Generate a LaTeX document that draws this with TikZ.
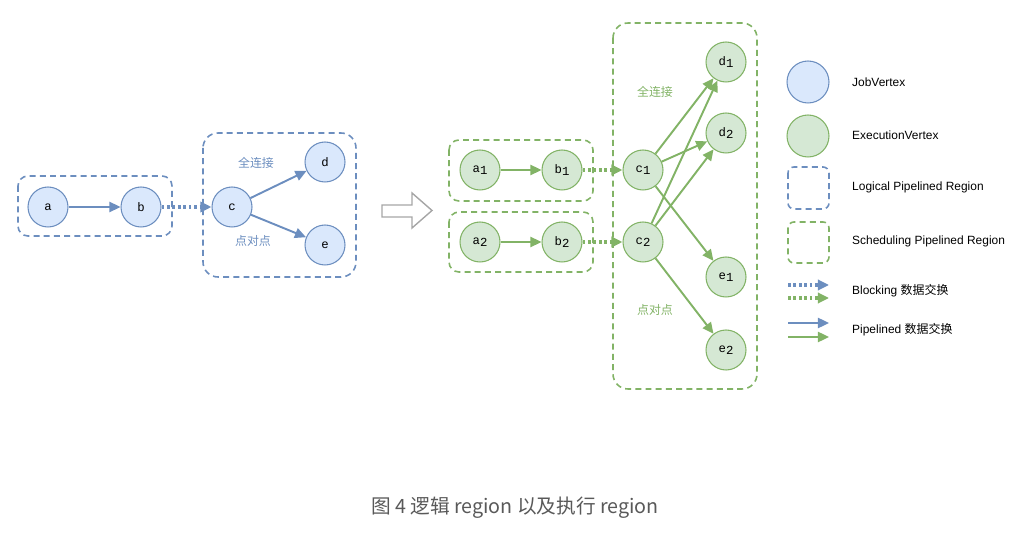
\documentclass[tikz,border=0pt]{standalone}
\usepackage{fontspec}
\setmainfont{Liberation Sans}
\setmonofont{Liberation Mono}
\newfontfamily\cjk{Noto Sans CJK SC}
\usepackage{xcolor}
\usepackage{tikz}
\usetikzlibrary{arrows.meta}

\definecolor{jobline}{HTML}{6C8EBF}
\definecolor{jobfill}{HTML}{DAE8FC}
\definecolor{exeline}{HTML}{82B366}
\definecolor{exefill}{HTML}{D5E8D4}
\newcommand{\vsub}[1]{\raisebox{-0.4ex}{\texttt{#1}}}

\begin{document}
\begin{tikzpicture}[x=0.02cm, y=-0.02cm,
  every node/.style={font=\fontsize{6.5pt}{7pt}\selectfont},
  jv/.style={circle, draw=jobline, fill=jobfill, line width=0.6pt, minimum size=0.8cm, inner sep=0pt, font=\fontsize{7pt}{7pt}\ttfamily},
  ev/.style={circle, draw=exeline, fill=exefill, line width=0.6pt, minimum size=0.8cm, inner sep=0pt, font=\fontsize{7pt}{7pt}\ttfamily},
  tip/.style={-{Triangle[length=6.3pt, width=5.8pt]}},
  pipe/.style={tip, line width=1.1pt},
  block/.style={tip, line width=1.9pt, dash pattern=on 1.5pt off 1.6pt},
  region/.style={line width=0.9pt, dash pattern=on 3.4pt off 2.4pt},
  lbl/.style={font=\cjk\fontsize{6.8pt}{7pt}\selectfont},
  key/.style={anchor=west, font=\fontsize{6.8pt}{8pt}\selectfont}]
\useasboundingbox (0,0) rectangle (1021,533);

% logical graph
\draw[region, draw=jobline, rounded corners=0.2cm] (18,176) rectangle (172,236);
\draw[region, draw=jobline, rounded corners=0.3cm] (203,133) rectangle (356,277);
\node[jv] (a) at (48,207) {a};
\node[jv] (b) at (141,207) {b};
\node[jv] (c) at (232,207) {c};
\node[jv] (d) at (325,162) {d};
\node[jv] (e) at (325,245) {e};
\node[lbl, text=jobline] (fa) at (256,163) {全连接};
\node[lbl, text=jobline] (pa) at (253,241) {点对点};
\draw[pipe, draw=jobline, jobline] (a)--(b);
\draw[block, draw=jobline, jobline] (b)--(c);
\draw[pipe, draw=jobline, jobline] (c)--(d);
\draw[pipe, draw=jobline, jobline] (c)--(e);

% hollow arrow
\draw[draw=gray!70, fill=white, line width=0.8pt] (382,205)--(412,205)--(412,193)--(432,210.5)--(412,228)--(412,217)--(382,217)--cycle;

% execution graph
\draw[region, draw=exeline, rounded corners=0.2cm] (449,140) rectangle (593,201);
\draw[region, draw=exeline, rounded corners=0.2cm] (449,212) rectangle (593,272);
\draw[region, draw=exeline, rounded corners=0.3cm] (613,23) rectangle (757,389);
\node[ev] (a1) at (480,170) {a\vsub{1}};
\node[ev] (b1) at (562,170) {b\vsub{1}};
\node[ev] (c1) at (643,170) {c\vsub{1}};
\node[ev] (a2) at (480,242) {a\vsub{2}};
\node[ev] (b2) at (562,242) {b\vsub{2}};
\node[ev] (c2) at (643,242) {c\vsub{2}};
\node[ev] (d1) at (726,62) {d\vsub{1}};
\node[ev] (d2) at (726,133) {d\vsub{2}};
\node[ev] (e1) at (726,277) {e\vsub{1}};
\node[ev] (e2) at (726,350) {e\vsub{2}};
\node[lbl, text=exeline] (fb) at (655,92) {全连接};
\node[lbl, text=exeline] (pb) at (655,310) {点对点};
\draw[pipe, draw=exeline, exeline] (a1)--(b1);
\draw[pipe, draw=exeline, exeline] (a2)--(b2);
\draw[block, draw=exeline, exeline] (b1)--(c1);
\draw[block, draw=exeline, exeline] (b2)--(c2);
\draw[pipe, draw=exeline, exeline] (c1)--(d1);
\draw[pipe, draw=exeline, exeline] (c1)--(d2);
\draw[pipe, draw=exeline, exeline] (c1)--(e1);
\draw[pipe, draw=exeline, exeline] (c2)--(d1);
\draw[pipe, draw=exeline, exeline] (c2)--(d2);
\draw[pipe, draw=exeline, exeline] (c2)--(e2);

% legend
\node[jv, minimum size=0.84cm] (kjv) at (808,82) {};
\node[ev, minimum size=0.84cm] (kev) at (808,136) {};
\draw[region, draw=jobline, rounded corners=0.12cm] (788,167) rectangle (829,209);
\draw[region, draw=exeline, rounded corners=0.12cm] (788,222) rectangle (829,263);
\coordinate (kb1s) at (788,285); \coordinate (kb1e) at (829,285);
\coordinate (kb2s) at (788,298); \coordinate (kb2e) at (829,298);
\coordinate (kp1s) at (788,323); \coordinate (kp1e) at (829,323);
\coordinate (kp2s) at (788,337); \coordinate (kp2e) at (829,337);
\draw[block, draw=jobline, jobline] (kb1s)--(kb1e);
\draw[block, draw=exeline, exeline] (kb2s)--(kb2e);
\draw[pipe, draw=jobline, jobline] (kp1s)--(kp1e);
\draw[pipe, draw=exeline, exeline] (kp2s)--(kp2e);
\node[key] (tjv) at (846,82) {JobVertex};
\node[key] (tev) at (846,135) {ExecutionVertex};
\node[key] (tlr) at (846,187) {Logical Pipelined Region};
\node[key] (tsr) at (846,241) {Scheduling Pipelined Region};
\node[key] (tbl) at (846,291) {Blocking {\cjk 数据交换}};
\node[key] (tpl) at (846,330) {Pipelined {\cjk 数据交换}};

% caption
\node[font=\cjk\fontsize{11.2pt}{13pt}\selectfont, text=black!65] (cap) at (515,508) {图 4 逻辑 region 以及执行 region};
\end{tikzpicture}
\end{document}
